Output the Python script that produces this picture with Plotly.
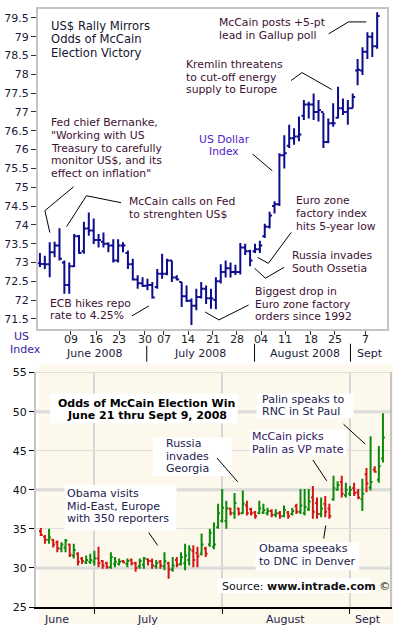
import pandas as pd
import plotly.graph_objects as go

# ---------------- data: US Dollar Index (daily OHLC, trading days) ----------------
usd_open = [72.98, 72.96, 72.95, 73.27, 73.45, 73.00, 72.40, 72.90, 73.70, 73.30,
            73.90, 73.85, 73.60, 73.55, 73.50, 73.45, 73.05, 73.45, 73.25, 72.95,
            72.55, 72.45, 72.38, 72.40, 72.35, 72.70, 72.70, 73.05, 72.60, 72.48,
            72.10, 71.98, 71.85, 72.08, 72.30, 72.05, 72.00, 72.50, 72.75, 72.85,
            72.75, 72.75, 73.40, 73.30, 73.30, 73.35, 73.70, 73.95, 74.50, 74.55,
            75.85, 76.10, 76.30, 76.35, 76.90, 77.20, 77.20, 77.00, 77.00, 76.20,
            76.70, 76.85, 77.10, 77.00, 77.10, 78.10, 78.10, 78.60, 79.00, 78.75]
usd_high = [73.25, 73.18, 73.54, 73.55, 73.91, 73.05, 73.00, 73.76, 73.73, 74.08,
            74.33, 74.17, 73.76, 73.80, 73.54, 73.62, 73.62, 73.54, 73.32, 73.10,
            72.66, 72.61, 72.57, 72.48, 72.83, 73.23, 73.10, 73.05, 72.66, 72.48,
            72.39, 72.04, 72.30, 72.48, 72.39, 72.30, 72.61, 72.95, 73.05, 73.00,
            72.94, 73.52, 73.50, 73.34, 73.50, 73.58, 74.03, 74.35, 74.63, 75.90,
            76.38, 76.66, 76.57, 76.88, 77.32, 77.27, 77.49, 77.32, 76.97, 76.83,
            77.23, 77.67, 77.36, 77.32, 77.49, 78.41, 78.72, 79.12, 79.12, 79.65]
usd_low = [72.88, 72.83, 72.61, 73.14, 73.05, 72.17, 72.17, 72.88, 73.23, 73.23,
           73.71, 73.49, 73.40, 73.40, 73.27, 73.00, 73.00, 73.27, 72.83, 72.52,
           72.30, 72.35, 72.26, 72.04, 72.30, 72.57, 72.66, 72.48, 72.52, 71.82,
           71.95, 71.34, 71.73, 72.04, 71.90, 71.77, 71.76, 72.44, 72.60, 72.60,
           72.67, 72.68, 73.20, 72.90, 73.25, 73.25, 73.65, 73.90, 74.30, 74.50,
           75.50, 76.04, 76.13, 76.22, 76.79, 76.83, 76.79, 76.75, 76.04, 76.17,
           76.61, 76.83, 76.92, 76.66, 77.10, 77.71, 77.98, 78.41, 78.46, 78.68]
usd_close = [72.96, 72.95, 73.27, 73.45, 73.10, 72.40, 72.90, 73.70, 73.25, 73.90,
             73.85, 73.60, 73.60, 73.50, 73.45, 73.05, 73.45, 73.45, 72.95, 72.55,
             72.45, 72.38, 72.40, 72.07, 72.70, 72.70, 73.05, 72.60, 72.55, 72.10,
             71.98, 71.85, 72.08, 72.30, 72.05, 72.04, 72.50, 72.75, 72.85, 72.75,
             72.75, 73.40, 73.30, 73.05, 73.35, 73.45, 73.95, 74.25, 74.55, 75.85,
             75.90, 76.30, 76.35, 76.40, 77.20, 77.20, 77.00, 77.05, 76.20, 76.70,
             76.70, 77.10, 77.00, 77.10, 77.40, 78.12, 78.60, 79.00, 78.75, 79.55]
usd_tick_labels = ["09", "16", "23", "30", "07", "14", "21", "28", "04", "11", "18", "25", "7"]
usd_month_labels = ["June 2008", "July 2008", "August 2008", "Sept"]

# ---------------- data: Intrade odds of McCain win (daily OHLC) ----------------
odds_start = "2008-06-18"
odds_open = [34.7, 34.0, 33.6, 33.6, 33.3, 32.5, 32.6, 33.0, 31.6, 31.8,
             31.2, 30.7, 30.8, 30.8, 31.2, 30.9, 30.6, 30.1, 30.5, 30.5,
             30.9, 30.5, 31.0, 30.6, 30.2, 30.4, 31.1, 30.9, 30.2, 30.8,
             30.2, 30.6, 29.8, 31.0, 30.5, 30.6, 31.0, 32.2, 31.9, 31.8,
             32.5, 33.0, 32.7, 35.2, 36.0, 36.0, 37.6, 37.0, 37.6, 37.0,
             38.0, 37.5, 37.1, 37.0, 37.1, 37.0, 37.3, 36.8, 37.0, 36.6,
             37.1, 36.9, 37.9, 37.2, 37.0, 37.5, 39.0, 38.3, 36.9, 38.2,
             37.6, 38.8, 40.0, 41.0, 39.3, 39.5, 40.2, 39.7, 38.8, 42.0,
             40.3, 42.6, 41.3, 44.0]
odds_high = [35.1, 34.2, 35.0, 33.7, 33.5, 33.3, 33.7, 33.1, 33.1, 32.0,
             31.4, 31.6, 31.8, 32.2, 32.7, 31.0, 30.8, 32.0, 31.4, 31.2,
             31.0, 31.2, 31.2, 30.8, 31.2, 31.4, 31.2, 31.2, 31.0, 31.0,
             32.0, 30.8, 31.4, 31.4, 32.0, 33.1, 32.9, 32.9, 32.7, 34.4,
             32.7, 35.0, 35.8, 38.2, 40.1, 38.6, 37.7, 39.6, 37.7, 39.9,
             38.6, 37.7, 37.3, 38.6, 38.2, 37.7, 37.5, 37.5, 37.3, 38.0,
             37.3, 37.7, 38.2, 40.1, 40.1, 40.1, 40.5, 39.0, 39.0, 39.2,
             38.2, 41.8, 41.1, 41.8, 40.9, 40.5, 40.9, 40.1, 41.4, 42.8,
             46.85, 43.0, 45.6, 49.8]
odds_low = [34.1, 33.1, 33.1, 32.6, 32.0, 32.0, 32.0, 31.4, 31.2, 30.3,
            30.5, 30.5, 30.5, 30.3, 30.1, 29.9, 29.9, 29.9, 30.1, 30.3,
            30.6, 30.1, 30.3, 29.5, 29.9, 29.9, 30.3, 29.9, 29.9, 29.9,
            29.7, 28.6, 29.5, 30.1, 30.3, 29.7, 30.3, 30.1, 30.1, 31.6,
            31.4, 32.7, 32.4, 35.0, 35.8, 35.0, 36.7, 36.3, 36.7, 36.9,
            36.7, 36.7, 36.3, 36.9, 36.9, 36.7, 36.5, 36.5, 36.3, 36.5,
            36.3, 36.7, 36.9, 36.9, 36.7, 37.3, 36.3, 36.3, 36.5, 36.5,
            36.3, 38.6, 39.9, 39.0, 39.0, 39.2, 39.2, 38.8, 37.3, 39.7,
            39.9, 42.2, 40.9, 43.5]
odds_close = [34.2, 33.6, 33.9, 33.0, 32.5, 33.0, 33.5, 31.7, 32.3, 30.8,
              30.9, 31.0, 31.0, 31.2, 30.6, 30.3, 30.1, 31.4, 30.8, 30.8,
              30.7, 30.9, 30.6, 30.0, 30.9, 31.2, 30.9, 30.3, 30.6, 30.3,
              30.9, 29.8, 30.3, 30.4, 31.4, 31.6, 32.4, 31.0, 31.5, 33.0,
              31.8, 34.5, 33.0, 37.0, 37.7, 37.6, 37.0, 38.3, 37.0, 38.2,
              37.0, 37.0, 36.6, 37.6, 37.4, 37.3, 36.8, 37.0, 36.6, 37.4,
              36.6, 37.3, 37.2, 38.0, 37.8, 38.5, 37.2, 36.9, 37.6, 37.2,
              36.6, 40.2, 40.6, 39.5, 40.0, 40.0, 39.6, 39.0, 39.5, 40.8,
              41.0, 42.3, 43.0, 46.7]
odds_month_labels = ["June", "July", "August", "Sept"]
odds_month_starts = ["2008-07-01", "2008-08-01", "2008-09-01"]

odds_dates = pd.date_range(odds_start, periods=len(odds_open), freq="D")
usd_x = list(range(len(usd_open)))

# ---------------- geometry helpers (pixel -> paper) ----------------
W, H = 396, 628
ML, MR, MT, MB = 34, 4, 5, 21
PW, PH = W - ML - MR, H - MT - MB


def px(x):
    return (x - ML) / PW


def py(y):
    return 1 - (y - MT) / PH


FONT = "DejaVu Sans"
TOP_TXT = "#3d1033"
BOT_TXT = "#22224c"

fig = go.Figure()

fig.add_trace(go.Ohlc(
    x=usd_x, open=usd_open, high=usd_high, low=usd_low, close=usd_close,
    xaxis="x", yaxis="y", tickwidth=0.5, showlegend=False, hoverinfo="skip",
    increasing=dict(line=dict(color="#0c0c8c", width=2)),
    decreasing=dict(line=dict(color="#0c0c8c", width=2)),
))
fig.add_trace(go.Ohlc(
    x=odds_dates, open=odds_open, high=odds_high, low=odds_low, close=odds_close,
    xaxis="x2", yaxis="y2", tickwidth=0.45, showlegend=False, hoverinfo="skip",
    increasing=dict(line=dict(color="#0a8a0a", width=2)),
    decreasing=dict(line=dict(color="#d41414", width=2)),
))

usd_tick_pos = [6.27, 11.53, 16.19, 21.45, 25.29, 30.35, 35.41, 40.27, 45.33,
                50.18, 55.44, 60.30, 66.57]

fig.update_layout(
    width=W, height=H,
    margin=dict(l=ML, r=MR, t=MT, b=MB),
    paper_bgcolor="white", plot_bgcolor="rgba(0,0,0,0)",
    showlegend=False,
    font=dict(family=FONT, size=11, color="#1a1a3a"),
    xaxis=dict(
        domain=[px(36), px(389)], anchor="y", range=[-0.4, 71.02],
        tickmode="array", tickvals=usd_tick_pos, showticklabels=False,
        ticks="outside", ticklen=4, tickcolor="#333",
        showline=True, mirror=True, linecolor="#c4c4c4", linewidth=2,
        showgrid=False, zeroline=False, rangeslider=dict(visible=False),
    ),
    yaxis=dict(
        domain=[py(327), 1], anchor="x", range=[71.236, 79.737],
        tick0=71.5, dtick=0.5, ticks="outside", ticklen=5, tickcolor="#333",
        tickfont=dict(size=11, color="#1a1a3a"),
        showline=True, mirror=True, linecolor="#c4c4c4", linewidth=2,
        showgrid=False, zeroline=False,
    ),
    xaxis2=dict(
        domain=[0, 1], anchor="y2", type="date",
        range=["2008-06-16 20:00", "2008-09-10 17:00"],
        tickmode="array", tickvals=odds_month_starts, showticklabels=False,
        ticks="outside", ticklen=5, tickcolor="black",
        showgrid=True, gridcolor="#d6d6d6", gridwidth=2,
        showline=True, linecolor="black", linewidth=2, zeroline=False,
        rangeslider=dict(visible=False),
    ),
    yaxis2=dict(
        domain=[0, py(370)], anchor="x2", range=[25, 55.13],
        tick0=25, dtick=5, ticks="outside", ticklen=5, tickcolor="black",
        tickfont=dict(size=11, color="#111"),
        showgrid=True, gridcolor="#dedede", gridwidth=1,
        showline=True, mirror=True, linecolor="#c4c4c4", linewidth=2, zeroline=False,
    ),
)

# top x tick labels (placed in the axis' data coordinates)
for pos, lab in zip(usd_tick_pos, usd_tick_labels):
    fig.add_annotation(x=pos, xref="x", y=py(338), yref="paper", text=lab,
                       showarrow=False, xanchor="center", yanchor="middle",
                       font=dict(family=FONT, size=11, color="#222"))

# cream background of lower panel
fig.add_shape(type="rect", xref="paper", yref="paper", x0=px(37), x1=px(395),
              y0=py(624), y1=py(363), fillcolor="#fcf8ec", line=dict(width=0), layer="below")
for gv in [30, 40, 50]:
    fig.add_shape(type="line", xref="x2 domain", yref="y2", x0=0, x1=1, y0=gv, y1=gv,
                  line=dict(color="#d9d9d9", width=3), layer="below")

# white label boxes in lower panel
for (x0, y0, x1, y1) in [(48, 392, 238, 422), (152, 436, 232, 475), (257, 392, 355, 417),
                         (250, 428, 348, 455), (63, 484, 176, 530), (256, 542, 361, 570),
                         (217, 578, 373, 593)]:
    fig.add_shape(type="rect", xref="paper", yref="paper", x0=px(x0), x1=px(x1),
                  y0=py(y1), y1=py(y0), fillcolor="white", line=dict(width=0), layer="above")


def pointer(points):
    path = "M " + " L ".join(f"{px(x):.5f},{py(y):.5f}" for x, y in points)
    fig.add_shape(type="path", path=path, xref="paper", yref="paper",
                  line=dict(color="black", width=1), layer="above")


def lines(texts, x, y0, dy, size=11, color=TOP_TXT, anchor="left"):
    for i, t in enumerate(texts):
        fig.add_annotation(x=px(x), y=py(y0 + i * dy), xref="paper", yref="paper",
                           text=t, showarrow=False, xanchor=anchor, yanchor="middle",
                           font=dict(family=FONT, size=size, color=color))


# ---- top panel texts ----
lines(["US$ Rally Mirrors", "Odds of McCain", "Election Victory"], 47, 22, 13.7, 11.6, "#15152e")
lines(["Fed chief Bernanke,", "\"Working with US", "Treasury to carefully",
       "monitor US$, and its", "effect on inflation\""], 47, 119, 13, 10.8)
lines(["McCain calls on Fed", "to strenghten US$"], 126, 199, 13, 10.8)
lines(["ECB hikes repo", "rate to 4.25%"], 46, 301, 13, 10.8)
lines(["Biggest drop in", "Euro zone factory", "orders since 1992"], 253, 289, 13, 10.8)
lines(["Russia invades", "South Ossetia"], 291, 253, 13, 10.8)
lines(["Euro zone", "factory index", "hits 5-year low"], 295, 198, 13, 10.8)
lines(["US Dollar", "Index"], 224.5, 136, 12.5, 10.8, "#5522cc", "center")
lines(["Kremlin threatens", "to cut-off energy", "supply to Europe"], 184, 61, 12.5, 10.8)
lines(["McCain posts +5-pt", "lead in Gallup poll"], 217, 19, 13, 10.8)
lines(["US"], 19, 335, 0, 11, "#3a22a0", "center")
lines(["Index"], 23, 348, 0, 11, "#3a22a0", "center")
for lab, cx in zip(usd_month_labels, [93, 200, 306, 372]):
    lines([lab], cx, 352, 0, 11, "#1a1a3a", "center")
for sx, sy0 in [(146, 344), (255, 342), (352, 342)]:
    pointer([(sx, sy0), (sx, 360)])

pointer([(72, 184), (43, 208), (48, 230)])
pointer([(120, 200), (85, 193), (65, 224)])
pointer([(131, 314), (148, 304)])
pointer([(249, 303), (219, 318), (205, 310)])
pointer([(285, 265), (266, 276), (255, 266)])
pointer([(292, 230), (269, 261), (258, 255)])
pointer([(253, 151), (273, 168)])
pointer([(292, 77), (303, 69), (333, 86)])
pointer([(330, 30), (350, 18), (368, 18)])

# ---- bottom panel texts ----
lines(["<b>Odds of McCain Election Win</b>", "<b>June 21 thru Sept 9, 2008</b>"],
      146, 402, 12, 11, "#000000", "center")
lines(["Russia", "invades", "Georgia"], 163, 442, 13, 11, BOT_TXT)
lines(["Palin speaks to", "RNC in St Paul"], 261, 398, 12.5, 11, BOT_TXT)
lines(["McCain picks", "Palin as VP mate"], 250, 435, 13, 11, "#34165c")
lines(["Obama visits", "Mid-East, Europe", "with 350 reporters"], 63, 493, 12.7, 11, BOT_TXT)
lines(["Obama speeaks", "to DNC in Denver"], 257, 548, 13, 11, BOT_TXT)
lines(["Source: <b>www.intrade.com</b> ©"], 220, 586, 0, 11, "#111111")
for lab, cx in zip(odds_month_labels, [55, 147, 286, 370]):
    lines([lab], cx, 620, 0, 11, BOT_TXT, "center")

pointer([(217, 457), (238, 481)])
pointer([(345, 423), (367, 443)])
pointer([(314, 459), (328, 480)])
pointer([(148, 532), (157, 545)])
pointer([(325, 538), (327, 525)])

fig.write_html("out.html", config={"displayModeBar": False},
               post_script="document.body.style.margin='0px';")
